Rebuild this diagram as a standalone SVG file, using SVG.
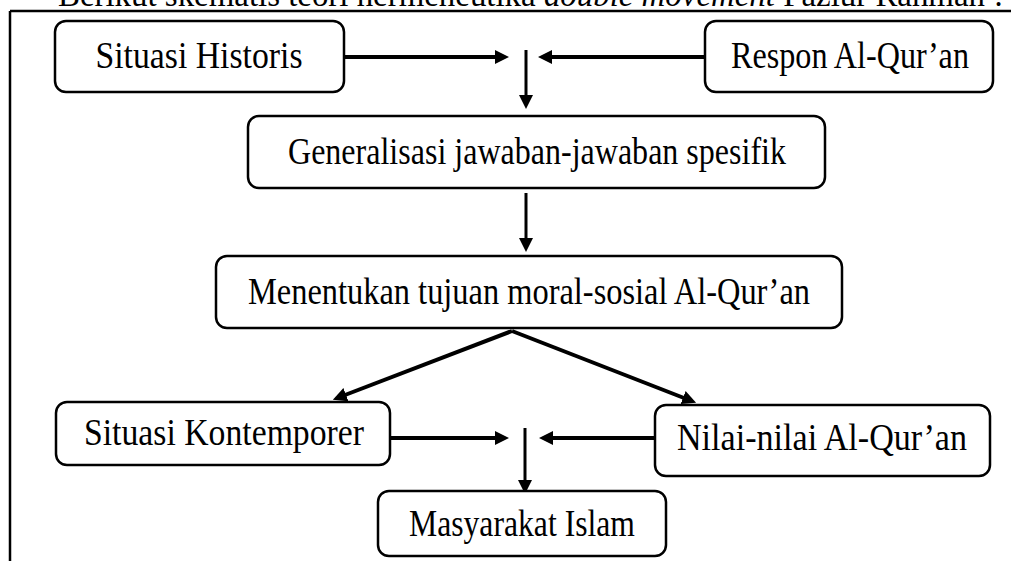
<svg xmlns="http://www.w3.org/2000/svg" width="1011" height="561" viewBox="0 0 1011 561">
  <style>
    .box { fill: #ffffff; stroke: #000000; stroke-width: 2.5; }
    .lbl { font-family: "Liberation Serif", "Times New Roman", serif; font-size: 37px; fill: #000000; text-anchor: middle; }
    .hdr { font-family: "Liberation Serif", "Times New Roman", serif; font-size: 33px; fill: #000000; }
    .frame { stroke: #000000; stroke-width: 2.5; fill: none; }
    .conn { stroke: #000000; fill: none; }
    .thick { stroke-width: 4; }
    .thin { stroke-width: 3; }
  </style>
  <defs>
    <marker id="ah" viewBox="0 0 14 14" markerWidth="14" markerHeight="14" markerUnits="userSpaceOnUse" refX="1" refY="7" orient="auto">
      <path d="M0,0 L14,7 L0,14 z" fill="#000000"/>
    </marker>
  </defs>

  <g id="header">
    <text class="hdr" x="58" y="6" textLength="927" lengthAdjust="spacingAndGlyphs">Berikut skematis teori hermeneutika <tspan font-style="italic">double movement</tspan> Fazlur Rahman</text>
    <text class="hdr" x="994" y="6">:</text>
  </g>

  <g id="frame">
    <line class="frame" x1="10" y1="11" x2="1011" y2="11"/>
    <line class="frame" x1="10" y1="11" x2="10" y2="561"/>
  </g>

  <g id="connectors">
    <line class="conn thick" x1="344" y1="57" x2="496" y2="57" marker-end="url(#ah)"/>
    <line class="conn thick" x1="705" y1="57" x2="551" y2="57" marker-end="url(#ah)"/>
    <line class="conn thin" x1="526" y1="50" x2="526" y2="96" marker-end="url(#ah)"/>
    <line class="conn thin" x1="526" y1="193" x2="526" y2="239" marker-end="url(#ah)"/>
    <line class="conn thick" x1="512" y1="331" x2="345" y2="395" marker-end="url(#ah)"/>
    <line class="conn thick" x1="512" y1="331" x2="684" y2="398" marker-end="url(#ah)"/>
    <line class="conn thick" x1="390" y1="438" x2="496" y2="438" marker-end="url(#ah)"/>
    <line class="conn thick" x1="655" y1="438" x2="552" y2="438" marker-end="url(#ah)"/>
    <line class="conn thin" x1="525" y1="428" x2="525" y2="481" marker-end="url(#ah)"/>
  </g>

  <g id="situasi-historis">
    <rect class="box" x="55" y="21" width="289" height="71" rx="11"/>
    <text class="lbl" x="199" y="68" textLength="207" lengthAdjust="spacingAndGlyphs">Situasi Historis</text>
  </g>
  <g id="respon-alquran">
    <rect class="box" x="705" y="21" width="288" height="71" rx="11"/>
    <text class="lbl" x="850" y="68" textLength="238" lengthAdjust="spacingAndGlyphs">Respon Al-Qur’an</text>
  </g>
  <g id="generalisasi">
    <rect class="box" x="248" y="116" width="577" height="72" rx="11"/>
    <text class="lbl" x="537" y="164" textLength="498" lengthAdjust="spacingAndGlyphs">Generalisasi jawaban-jawaban spesifik</text>
  </g>
  <g id="menentukan">
    <rect class="box" x="216" y="256" width="626" height="72" rx="11"/>
    <text class="lbl" x="529" y="304" textLength="562" lengthAdjust="spacingAndGlyphs">Menentukan tujuan moral-sosial Al-Qur’an</text>
  </g>
  <g id="situasi-kontemporer">
    <rect class="box" x="56" y="402" width="334" height="63" rx="11"/>
    <text class="lbl" x="224" y="445" textLength="280" lengthAdjust="spacingAndGlyphs">Situasi Kontemporer</text>
  </g>
  <g id="nilai-nilai">
    <rect class="box" x="655" y="405" width="335" height="71" rx="11"/>
    <text class="lbl" x="822" y="450" textLength="290" lengthAdjust="spacingAndGlyphs">Nilai-nilai Al-Qur’an</text>
  </g>
  <g id="masyarakat-islam">
    <rect class="box" x="378" y="491" width="288" height="65" rx="11"/>
    <text class="lbl" x="522" y="536" textLength="226" lengthAdjust="spacingAndGlyphs">Masyarakat Islam</text>
  </g>
</svg>
